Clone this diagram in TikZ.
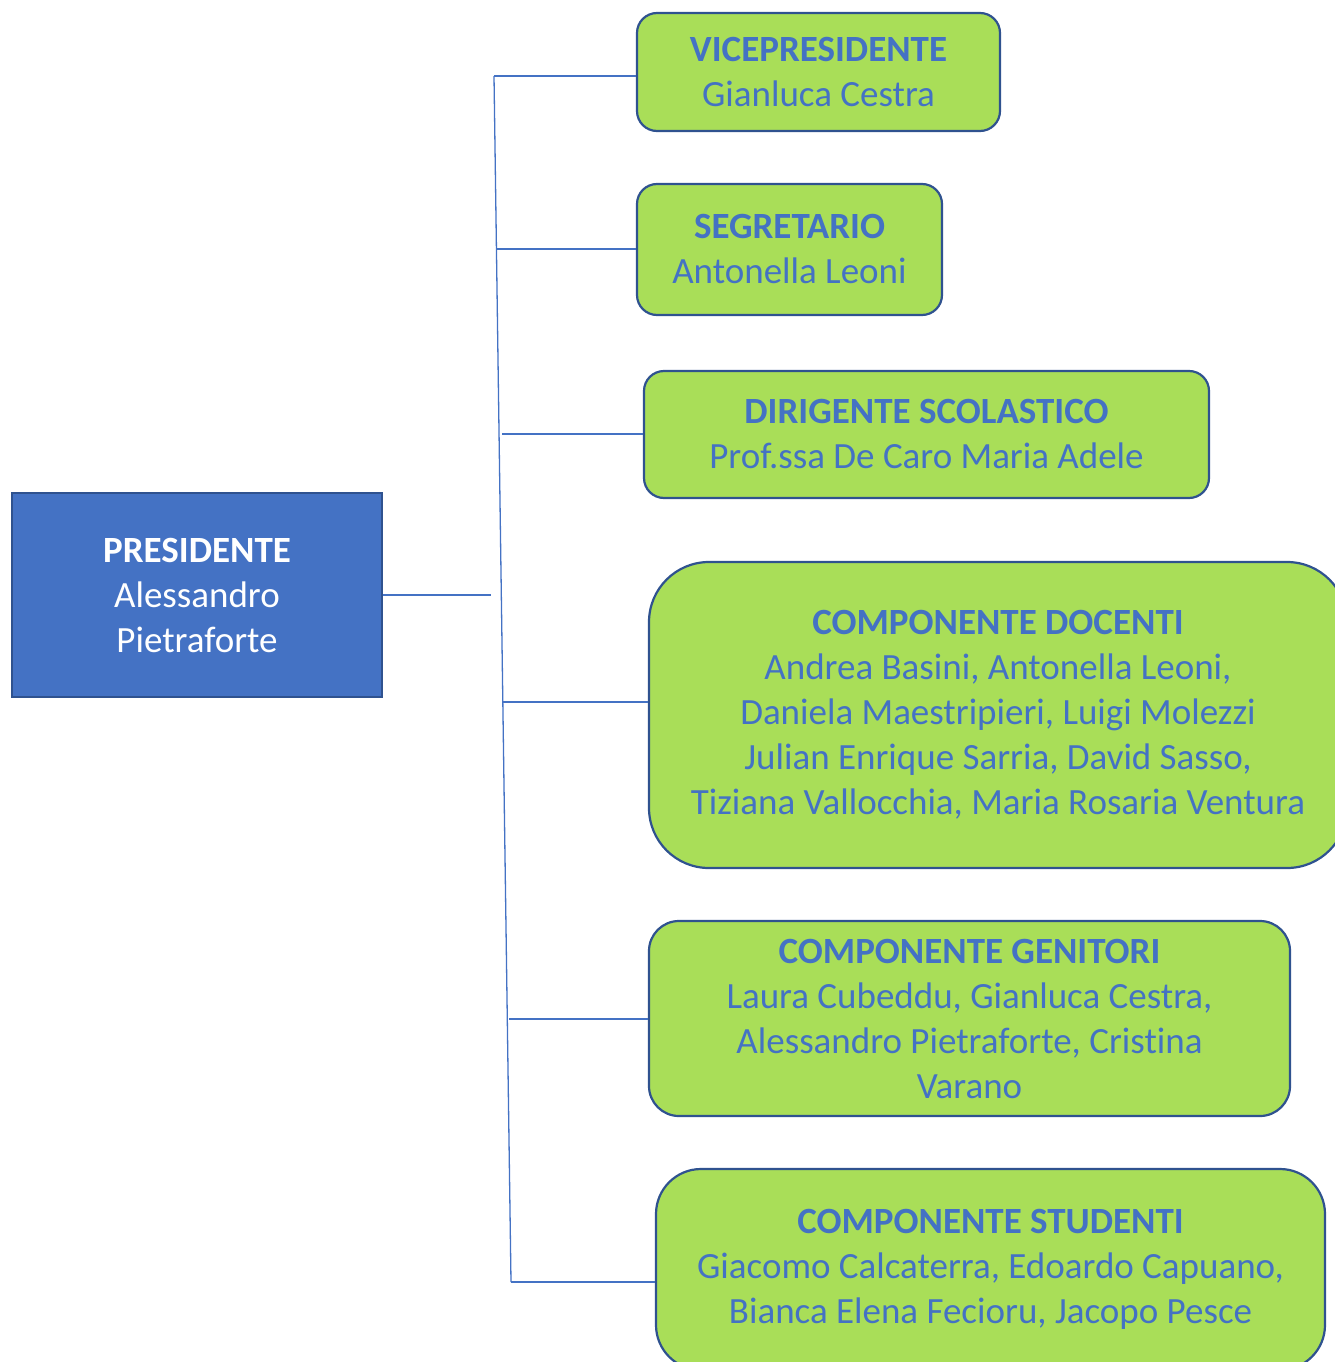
\documentclass[tikz,border=0pt]{standalone}
\usepackage{fontspec}
\setmainfont[Ligatures=NoCommon]{Carlito}
\definecolor{txtblue}{HTML}{4472C4}
\definecolor{edgeblue}{HTML}{2F528F}
\definecolor{boxgreen}{HTML}{A9DE58}
\begin{document}
\begin{tikzpicture}[x=1pt,y=-1pt,
  member/.style={draw=edgeblue,line width=2.2pt,fill=boxgreen,text=txtblue,
    align=center,inner sep=0pt,font=\fontsize{37}{45}\selectfont},
  chief/.style={draw=edgeblue,line width=2.2pt,fill=txtblue,text=white,
    align=center,inner sep=0pt,font=\fontsize{37}{45}\selectfont},
  link/.style={draw=txtblue,line width=1.3pt}]
\useasboundingbox (0,0) rectangle (1335,1362);
\node[chief,minimum width=370pt,minimum height=204pt] (pres) at (197,595)
  {\textbf{PRESIDENTE}\\Alessandro\\Pietraforte};
\node[member,rounded corners=20pt,minimum width=363pt,minimum height=118pt] (vice) at (818.5,72)
  {\textbf{VICEPRESIDENTE}\\Gianluca Cestra};
\node[member,rounded corners=20pt,minimum width=305pt,minimum height=131pt] (segr) at (789.5,249.5)
  {\textbf{SEGRETARIO}\\Antonella Leoni};
\node[member,rounded corners=20pt,minimum width=565pt,minimum height=127pt] (dir) at (926.5,434.5)
  {\textbf{DIRIGENTE SCOLASTICO}\\Prof.ssa De Caro Maria Adele};
\node[member,rounded corners=60pt,minimum width=698pt,minimum height=306pt] (doc) at (998,715)
  {\textbf{COMPONENTE DOCENTI}\\Andrea Basini, Antonella Leoni,\\Daniela Maestripieri, Luigi Molezzi\\Julian Enrique Sarria, David Sasso,\\Tiziana Vallocchia, Maria Rosaria Ventura};
\node[member,rounded corners=30pt,minimum width=641pt,minimum height=195pt] (gen) at (969.5,1018.5)
  {\textbf{COMPONENTE GENITORI}\\Laura Cubeddu, Gianluca Cestra,\\Alessandro Pietraforte, Cristina\\Varano};
\node[member,rounded corners=45pt,minimum width=669pt,minimum height=201pt] (stu) at (990.5,1269.5)
  {\textbf{COMPONENTE STUDENTI}\\Giacomo Calcaterra, Edoardo Capuano,\\Bianca Elena Fecioru, Jacopo Pesce};
\coordinate (ttop) at (494,76);
\coordinate (tbot) at (511,1282);
\coordinate (t2) at (496,249);
\coordinate (t3) at (502,434);
\coordinate (t4) at (503,702);
\coordinate (t5) at (509,1019);
\coordinate (pend) at (491,595);
\draw[link] (ttop) -- (tbot);
\draw[link] (pres.east |- pend) -- (pend);
\draw[link] (ttop) -- (ttop -| vice.west);
\draw[link] (t2) -- (t2 -| segr.west);
\draw[link] (t3) -- (t3 -| dir.west);
\draw[link] (t4) -- (t4 -| doc.west);
\draw[link] (t5) -- (t5 -| gen.west);
\draw[link] (tbot) -- (tbot -| stu.west);
\end{tikzpicture}
\end{document}
